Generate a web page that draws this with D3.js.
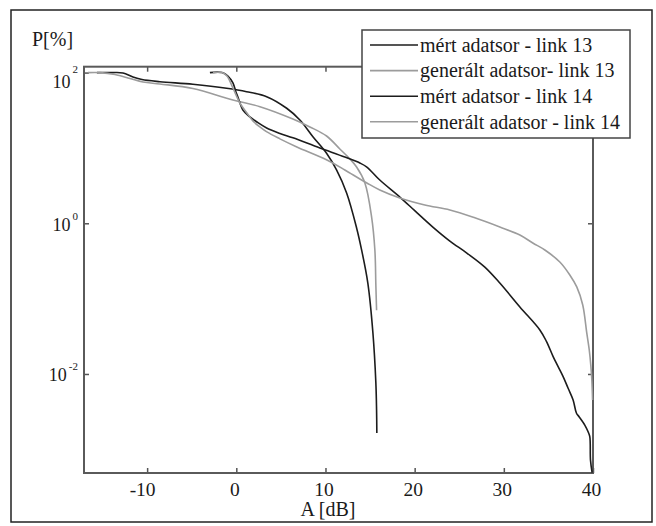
<!DOCTYPE html>
<html><head><meta charset="utf-8">
<script src="https://cdn.jsdelivr.net/npm/d3@7"></script>
<style>body{margin:0;background:#fff}</style>
</head><body><svg id="c" width="656" height="526"></svg>
<script>
// ---- data (A [dB], P [%]) ----
const xTicks = [-10, 0, 10, 20, 30, 40];
const yTicks = [1e2, 1e0, 1e-2];
const yTickExp = ["2", "0", "-2"];
const seriesNames = ["mért adatsor - link 13", "generált adatsor- link 13", "mért adatsor - link 14", "generált adatsor - link 14"];
const seriesColors = ["#1c1c1c", "#9c9c9c", "#1c1c1c", "#9c9c9c"];

const link13Meas = [[-15.63,100],[-13.95,100],[-12.71,98.8],[-11.59,87.5],[-10.58,80.9],[-8.57,75.7],[-4.87,69.9],[-1.09,61.9],[1.15,55.8],[3.40,47.9],[5.65,33.6],[7.13,23.5],[8.59,14.1],[10.12,8.49],[11.24,5.10],[12.37,2.52],[13.49,0.867],[14.05,0.443],[14.75,0.161],[15.32,0.035],[15.65,0.0076],[15.73,0.0033],[15.76,0.00165]];
const link13Gen = [[-16.64,100],[-15.29,100],[-13.61,94.4],[-11.93,83.6],[-10.47,75.0],[-8.57,70.6],[-4.87,61.5],[-0.38,43.3],[2.65,35.3],[6.35,24.2],[8.25,19.0],[10.12,14.4],[11.61,9.69],[12.74,7.13],[13.49,5.58],[14.42,3.43],[15.17,1.22],[15.54,0.438],[15.65,0.150],[15.73,0.070]];
const link14Meas = [[-2.96,100],[-1.61,100],[-0.94,90.1],[-0.38,72.8],[-0.04,55.3],[0.18,47.5],[0.74,31.9],[1.52,25.8],[2.31,22.1],[3.40,18.4],[4.89,15.6],[6.35,13.6],[9.37,9.98],[12.17,7.58],[13.86,6.31],[14.64,5.58],[16.09,3.75],[18.34,2.23],[20.04,1.46],[22.04,0.891],[23.95,0.581],[25.85,0.403],[27.87,0.262],[29.55,0.161],[31.80,0.0775],[34.04,0.0384],[34.79,0.0269],[35.53,0.0170],[36.09,0.0125],[36.65,0.00922],[37.21,0.00646],[37.77,0.00452],[38.15,0.00301],[38.44,0.00271],[39.08,0.00210],[39.45,0.00171],[39.64,0.00147],[39.72,0.00072],[39.90,0.00049]];
const link14Gen = [[-2.62,100],[-1.61,100],[-1.05,90.1],[-0.38,62.5],[0.40,39.5],[1.19,29.1],[1.86,22.8],[2.65,19.0],[3.43,16.3],[4.89,13.2],[6.79,10.3],[10.16,6.92],[12.17,5.10],[13.86,3.87],[14.64,3.43],[16.09,2.77],[18.34,2.17],[21.14,1.75],[23.95,1.50],[26.75,1.18],[29.55,0.892],[31.80,0.700],[33.25,0.547],[34.60,0.442],[36.28,0.306],[37.40,0.206],[38.18,0.143],[38.85,0.0824],[39.30,0.0350],[39.58,0.0208],[39.75,0.0132],[39.87,0.00832],[39.95,0.00452]];
const series = [link13Meas, link13Gen, link14Meas, link14Gen];

// ---- layout ----
const L = 84, R = 593, T = 66.7, B = 473;
const FONT = "Liberation Serif";
const svg = d3.select("#c");
const x = d3.scaleLinear().domain([-17.08, 40]).range([L, R]);
const y = d3.scaleLog().domain([0.000485, 119.7]).range([B, T]);
const textFill = "#1a1a1a";

// outer frame
svg.append("rect").attr("x", 11).attr("y", 10).attr("width", 641).attr("height", 512)
  .attr("fill", "none").attr("stroke", "#222").attr("stroke-width", 1.5);

// clip
svg.append("clipPath").attr("id", "clip").append("rect")
  .attr("x", L).attr("y", T - 2).attr("width", R - L + 1).attr("height", B - T + 3);

// axes (ticks inward)
const tickStyle = g => { g.select(".domain").remove(); g.selectAll("text").remove();
  g.selectAll("line").attr("stroke", "#555").attr("stroke-width", 1.5); };
svg.append("g").attr("transform", `translate(0,${B})`)
  .call(d3.axisBottom(x).tickValues(xTicks).tickSize(-5).tickSizeOuter(0)).call(tickStyle);
svg.append("g").attr("transform", `translate(0,${T})`)
  .call(d3.axisTop(x).tickValues(xTicks).tickSize(-5).tickSizeOuter(0)).call(tickStyle);
svg.append("g").attr("transform", `translate(${L},0)`)
  .call(d3.axisLeft(y).tickValues(yTicks).tickSize(-5).tickSizeOuter(0)).call(tickStyle);
svg.append("g").attr("transform", `translate(${R},0)`)
  .call(d3.axisRight(y).tickValues(yTicks).tickSize(-5).tickSizeOuter(0)).call(tickStyle);

// axes box
svg.append("rect").attr("x", L).attr("y", T).attr("width", R - L).attr("height", B - T)
  .attr("fill", "none").attr("stroke", "#5a5a5a").attr("stroke-width", 2);

// curves
const line = d3.line().x(d => x(d[0])).y(d => y(d[1])).curve(d3.curveCatmullRom.alpha(0.5));
svg.append("g").attr("clip-path", "url(#clip)").selectAll("path").data(series).join("path")
  .attr("d", line).attr("fill", "none")
  .attr("stroke", (d, i) => seriesColors[i]).attr("stroke-width", 1.6)
  .attr("stroke-linejoin", "round");

// x tick labels
svg.append("g").selectAll("text").data(xTicks).join("text")
  .attr("x", d => x(d) - (d < 0 ? 4.5 : 1.5)).attr("y", 496).attr("fill", textFill)
  .attr("font-family", FONT).attr("text-anchor", "middle").attr("font-size", 19.5).text(d => d);

// y tick labels with superscript exponent
yTicks.forEach((v, i) => {
  const top = i === 0;
  const t = svg.append("text").attr("x", 78).attr("y", y(v) + (top ? 15.7 : 7.5))
    .attr("font-family", FONT).attr("text-anchor", "end").attr("font-size", 18).attr("fill", textFill);
  t.append("tspan").text("10");
  t.append("tspan").attr("font-size", 11).attr("dx", 2).attr("dy", top ? -15 : -11).text(yTickExp[i]);
});

// axis titles
svg.append("text").attr("x", 32).attr("y", 46).attr("font-family", FONT).attr("font-size", 20).attr("fill", textFill).text("P[%]");
svg.append("text").attr("x", 328).attr("y", 516).attr("font-family", FONT).attr("text-anchor", "middle").attr("font-size", 20).attr("fill", textFill).text("A [dB]");

// legend
const lg = svg.append("g");
lg.append("rect").attr("x", 362).attr("y", 30).attr("width", 268).attr("height", 108)
  .attr("fill", "#fff").attr("stroke", "#444").attr("stroke-width", 1.5);
seriesNames.forEach((name, i) => {
  const cy = 45 + i * 25.6;
  lg.append("line").attr("x1", 370).attr("x2", 418).attr("y1", cy).attr("y2", cy)
    .attr("stroke", seriesColors[i]).attr("stroke-width", 1.6);
  lg.append("text").attr("x", 420).attr("y", cy + 6.7).attr("font-family", FONT)
    .attr("font-size", 20).attr("fill", textFill).text(name);
});
</script></body></html>
